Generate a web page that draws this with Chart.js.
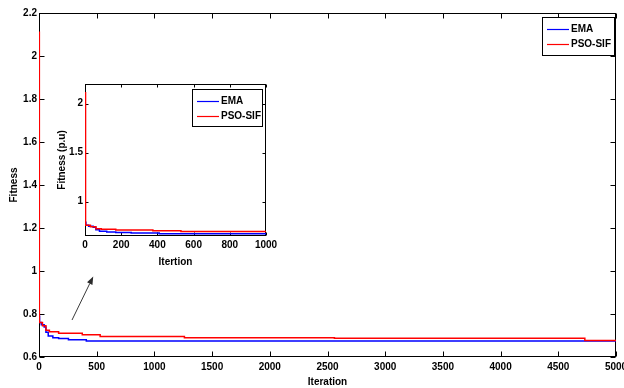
<!DOCTYPE html>
<html><head><meta charset="utf-8">
<script src="https://cdn.jsdelivr.net/npm/chart.js@4"></script>
<style>
html,body{margin:0;padding:0;background:#fff;}
#wrap{position:relative;width:624px;height:388px;overflow:hidden;background:#fff;}
#main{position:absolute;left:0;top:0;}
#inset{position:absolute;left:55px;top:78px;}
</style></head><body>
<div id="wrap"><canvas id="main" width="624" height="388"></canvas><canvas id="inset" width="235" height="195"></canvas></div>
<script>
// ---- data ----
const emaIter = [0, 5, 20, 45, 60, 80, 120, 170, 255, 410, 5000];
const emaFit  = [0.79, 0.76, 0.75, 0.74, 0.715, 0.698, 0.69, 0.686, 0.68, 0.674, 0.674];
const psoIter = [0, 3, 30, 60, 90, 170, 375, 530, 1260, 2560, 4730, 5000];
const psoFit  = [2.11, 0.76, 0.745, 0.725, 0.718, 0.71, 0.703, 0.695, 0.690, 0.687, 0.677, 0.677];
const seriesNames = ['EMA', 'PSO-SIF'];
const seriesColors = ['#0000ff', '#ff0000'];
const mainXTicks = [0, 500, 1000, 1500, 2000, 2500, 3000, 3500, 4000, 4500, 5000];
const mainYTicks = [0.6, 0.8, 1.0, 1.2, 1.4, 1.6, 1.8, 2.0, 2.2];
const insetXTicks = [0, 200, 400, 600, 800, 1000];
const insetYTicks = [1, 1.5, 2];
const arrowFrom = {x: 286, y: 0.772};
const arrowTo = {x: 470, y: 0.975};

const FONT = {family: '"Liberation Sans", Arial, sans-serif', size: 10, weight: 'bold'};
Chart.defaults.color = '#000';

function pts(xs, ys){ return xs.map((x, i) => ({x: x, y: ys[i]})); }
function makeDatasets(){
  return [
    {label: seriesNames[0], data: pts(emaIter, emaFit), borderColor: seriesColors[0], borderWidth: 1.5, pointRadius: 0, stepped: true, fill: false, order: 2},
    {label: seriesNames[1], data: pts(psoIter, psoFit), borderColor: seriesColors[1], borderWidth: 1.5, pointRadius: 0, stepped: true, fill: false, order: 1}
  ];
}

const frameTicks = {
  id: 'frameTicks',
  beforeDatasetsDraw(chart, args, opts){
    const {ctx, chartArea: a, scales: {x, y}} = chart;
    const L = opts.len || 5;
    ctx.save();
    ctx.strokeStyle = '#000'; ctx.lineWidth = 1;
    const l = Math.round(a.left) + 0.5, t = Math.round(a.top) + 0.5, r = Math.round(a.right) - 0.5, b = Math.round(a.bottom) - 0.5;
    ctx.strokeRect(l, t, r - l, b - t);
    ctx.beginPath();
    x.ticks.forEach(tk => {
      const px = Math.round(x.getPixelForValue(tk.value)) + 0.5;
      ctx.moveTo(px, b); ctx.lineTo(px, b - L);
      ctx.moveTo(px, t); ctx.lineTo(px, t + L);
    });
    y.ticks.forEach(tk => {
      const py = Math.round(y.getPixelForValue(tk.value)) + 0.5;
      ctx.moveTo(l, py); ctx.lineTo(l + L, py);
      ctx.moveTo(r, py); ctx.lineTo(r - L, py);
    });
    ctx.stroke();
    ctx.restore();
  }
};

const boxLegend = {
  id: 'boxLegend',
  afterDraw(chart, args, o){
    const ctx = chart.ctx;
    ctx.save();
    ctx.fillStyle = '#fff';
    ctx.fillRect(o.x, o.y, o.w, o.h);
    ctx.strokeStyle = '#000'; ctx.lineWidth = 1;
    ctx.strokeRect(o.x + 0.5, o.y + 0.5, o.w, o.h);
    ctx.font = 'bold 10px "Liberation Sans", Arial, sans-serif';
    ctx.textBaseline = 'middle';
    [0, 1].forEach((i, k) => {
      const ds = chart.data.datasets[i];
      const yy = Math.round(o.y + 12 + k * 15) + 0.5;
      ctx.strokeStyle = ds.borderColor; ctx.lineWidth = 1.2;
      ctx.beginPath(); ctx.moveTo(o.x + 5, yy); ctx.lineTo(o.x + 27, yy); ctx.stroke();
      ctx.fillStyle = '#000';
      ctx.fillText(ds.label, o.x + 29, yy);
    });
    ctx.restore();
  }
};

const arrowPlugin = {
  id: 'arrowPlugin',
  afterDraw(chart, args, o){
    if (!o.from) return;
    const {ctx, scales: {x, y}} = chart;
    const x1 = x.getPixelForValue(o.from.x), y1 = y.getPixelForValue(o.from.y);
    const x2 = x.getPixelForValue(o.to.x), y2 = y.getPixelForValue(o.to.y);
    const ang = Math.atan2(y2 - y1, x2 - x1);
    const hl = 8, hw = 3;
    ctx.save();
    ctx.strokeStyle = '#3a3a3a'; ctx.fillStyle = '#2a2a2a'; ctx.lineWidth = 1;
    ctx.beginPath(); ctx.moveTo(x1, y1);
    ctx.lineTo(x2 - hl * Math.cos(ang), y2 - hl * Math.sin(ang)); ctx.stroke();
    ctx.beginPath();
    ctx.moveTo(x2, y2);
    ctx.lineTo(x2 - hl * Math.cos(ang) + hw * Math.sin(ang), y2 - hl * Math.sin(ang) - hw * Math.cos(ang));
    ctx.lineTo(x2 - hl * Math.cos(ang) - hw * Math.sin(ang), y2 - hl * Math.sin(ang) + hw * Math.cos(ang));
    ctx.closePath(); ctx.fill();
    ctx.restore();
  }
};

function fmtNum(v){ return String(+(+v).toFixed(2)); }

function buildChart(canvas, cfg){
  return new Chart(canvas, {
    type: 'line',
    data: {datasets: makeDatasets()},
    options: {
      responsive: false, animation: false, devicePixelRatio: 1,
      layout: {padding: cfg.padding},
      plugins: {legend: {display: false}, tooltip: {enabled: false},
        frameTicks: {len: cfg.tickLen}, boxLegend: cfg.legend, arrowPlugin: cfg.arrow || {}},
      scales: {
        x: {
          type: 'linear', min: cfg.xMin, max: cfg.xMax,
          afterBuildTicks: s => { s.ticks = cfg.xTicks.map(v => ({value: v})); },
          ticks: {font: FONT, color: '#000', padding: cfg.xPad, maxRotation: 0, autoSkip: false, callback: v => fmtNum(v)},
          grid: {display: false, drawTicks: false}, border: {display: false},
          title: {display: true, text: cfg.xTitle, font: FONT, color: '#000', padding: {top: 0, bottom: cfg.xTitlePad}},
          afterFit: s => { s.height = cfg.xHeight; s.paddingLeft = 0; s.paddingRight = 0; }
        },
        y: {
          type: 'linear', min: cfg.yMin, max: cfg.yMax,
          afterBuildTicks: s => { s.ticks = cfg.yTicks.map(v => ({value: v})); },
          ticks: {font: FONT, color: '#000', padding: 2, autoSkip: false, callback: v => fmtNum(v)},
          grid: {display: false, drawTicks: false}, border: {display: false},
          title: {display: true, text: cfg.yTitle, font: FONT, color: '#000', padding: {top: cfg.yTitlePad, bottom: 0}},
          afterFit: s => { s.width = cfg.yWidth; s.paddingTop = 0; s.paddingBottom = 0; }
        }
      }
    },
    plugins: [frameTicks, boxLegend, arrowPlugin]
  });
}

buildChart(document.getElementById('main'), {
  padding: {left: 0, top: 13, right: 8, bottom: 0},
  xMin: 0, xMax: 5000, xTicks: mainXTicks, xPad: 4, xTitle: 'Iteration', xTitlePad: 0, xHeight: 31,
  yMin: 0.6, yMax: 2.2, yTicks: mainYTicks, yTitle: 'Fitness', yTitlePad: 8, yWidth: 39,
  tickLen: 5,
  legend: {x: 542, y: 17, w: 72, h: 38},
  arrow: {from: arrowFrom, to: arrowTo}
});

buildChart(document.getElementById('inset'), {
  padding: {left: 0, top: 6, right: 24, bottom: 0},
  xMin: 0, xMax: 1000, xTicks: insetXTicks, xPad: 3, xTitle: 'Itertion', xTitlePad: 5, xHeight: 37,
  yMin: 0.65, yMax: 2.2, yTicks: insetYTicks, yTitle: 'Fitness (p.u)', yTitlePad: 1, yWidth: 30,
  tickLen: 3,
  legend: {x: 137, y: 11, w: 70, h: 37}
});
</script>
</body></html>
